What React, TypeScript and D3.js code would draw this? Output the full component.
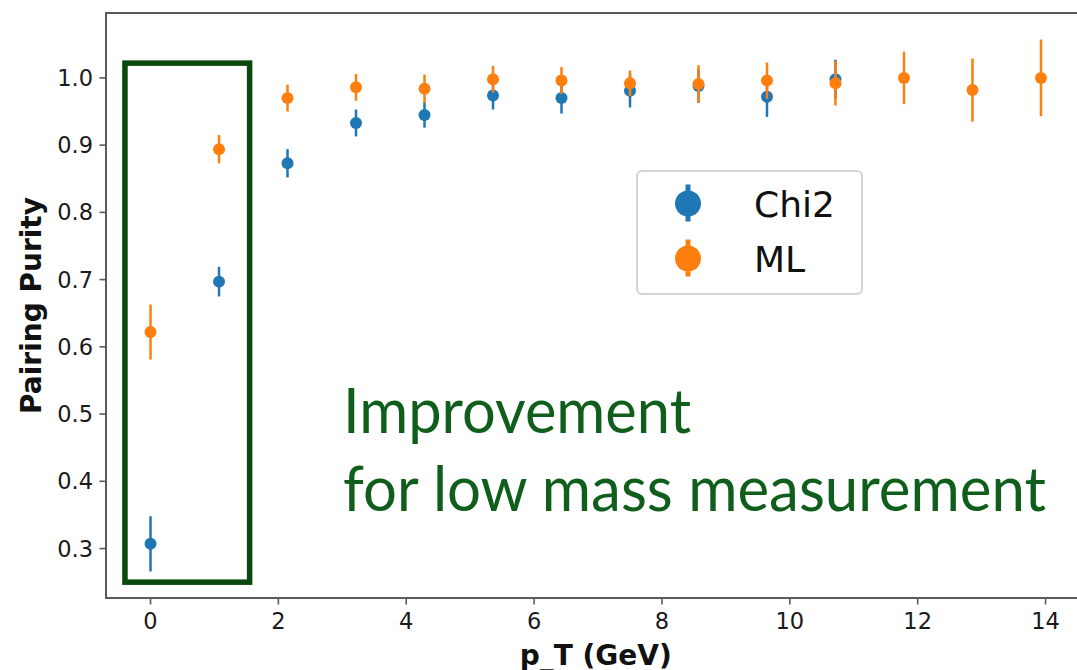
import React from "react";
import * as d3 from "d3";

// Bin centres in p_T (GeV): 14 equal bins across 0–15 GeV
const binCount = 14;
const binStep = 15 / 14;

// Pairing purity per bin and its uncertainty
const chi2Purity = [0.307, 0.697, 0.873, 0.933, 0.945, 0.974, 0.970, 0.981, 0.988, 0.972, 0.998];
const chi2Error = [0.041, 0.022, 0.021, 0.020, 0.019, 0.021, 0.023, 0.025, 0.025, 0.030, 0.029];
const mlPurity = [0.622, 0.894, 0.970, 0.986, 0.984, 0.998, 0.996, 0.992, 0.991, 0.996, 0.992, 1.0, 0.982, 1.0];
const mlError = [0.041, 0.021, 0.020, 0.020, 0.021, 0.020, 0.020, 0.019, 0.028, 0.027, 0.033, 0.039, 0.047, 0.057];

const xTicks = [0, 2, 4, 6, 8, 10, 12, 14];
const yTicks = [0.3, 0.4, 0.5, 0.6, 0.7, 0.8, 0.9, 1.0];

const seriesNames = ["Chi2", "ML"];
const seriesColors = ["#1f77b4", "#ff7f0e"];

// Highlighted low-p_T region (data units)
const highlightX = [-0.4, 1.55];
const highlightY = [0.25, 1.022];
const annotationLines = ["Improvement", "for low mass measurement"];

const W = 1077;
const H = 670;

export default function App() {
  const series = [
    { values: chi2Purity, errors: chi2Error },
    { values: mlPurity, errors: mlError },
  ].map((s, k) => ({
    name: seriesNames[k],
    color: seriesColors[k],
    points: s.values.map((v, i) => ({ x: i * binStep, y: v, e: s.errors[i] })),
  }));

  // Autoscale with 5% margins like the plotting default
  const xMax = (binCount - 1) * binStep;
  const allLo = series.flatMap((s) => s.points.map((p) => p.y - p.e));
  const allHi = series.flatMap((s) => s.points.map((p) => p.y + p.e));
  const yLo = d3.min(allLo) as number;
  const yHi = d3.max(allHi) as number;
  const yPad = (yHi - yLo) * 0.05;
  const xPad = xMax * 0.05;

  const plotLeft = 106;
  const plotRight = 1085.5;
  const plotTop = 13;
  const plotBottom = 598;

  const x = d3.scaleLinear().domain([-xPad, xMax + xPad]).range([plotLeft, plotRight]);
  const y = d3.scaleLinear().domain([yLo - yPad, yHi + yPad]).range([plotBottom, plotTop]);

  const spine = "#5a5a5a";
  const tickFont = "'DejaVu Sans', sans-serif";

  const legendX = 637;
  const legendY = 171;
  const legendW = 225;
  const legendH = 123;

  return (
    <div style={{ position: "absolute", left: 0, top: 0, width: W, height: H, background: "#fff" }}>
      <svg width={W} height={H} style={{ display: "block" }}>
        <rect x={0} y={0} width={W} height={H} fill="#fff" />

        {/* spines */}
        <rect
          x={plotLeft}
          y={plotTop}
          width={plotRight - plotLeft}
          height={plotBottom - plotTop}
          fill="none"
          stroke={spine}
          strokeWidth={2}
        />

        {/* y ticks */}
        {yTicks.map((t) => (
          <g key={"y" + t}>
            <line x1={plotLeft - 6.5} x2={plotLeft} y1={y(t)} y2={y(t)} stroke={spine} strokeWidth={1.6} />
            <text
              x={plotLeft - 13}
              y={y(t)}
              dy="0.36em"
              textAnchor="end"
              fontFamily={tickFont}
              fontSize={22.5}
              fill="#1a1a1a"
            >
              {d3.format(".1f")(t)}
            </text>
          </g>
        ))}

        {/* x ticks */}
        {xTicks.map((t) => (
          <g key={"x" + t}>
            <line x1={x(t)} x2={x(t)} y1={plotBottom} y2={plotBottom + 6.5} stroke={spine} strokeWidth={1.6} />
            <text
              x={x(t)}
              y={plotBottom + 31}
              textAnchor="middle"
              fontFamily={tickFont}
              fontSize={22.5}
              fill="#1a1a1a"
            >
              {t}
            </text>
          </g>
        ))}

        {/* axis labels */}
        <text
          x={(plotLeft + plotRight) / 2}
          y={665}
          textAnchor="middle"
          fontFamily={tickFont}
          fontWeight="bold"
          fontSize={28}
          fill="#111"
        >
          p_T (GeV)
        </text>
        <text
          transform={`translate(41, ${(plotTop + plotBottom) / 2}) rotate(-90)`}
          textAnchor="middle"
          fontFamily={tickFont}
          fontWeight="bold"
          fontSize={28}
          fill="#111"
        >
          Pairing Purity
        </text>

        {/* error bars and markers, one series after another */}
        {series.map((s) => (
          <g key={s.name}>
            {s.points.map((p, i) => (
              <line
                key={"e" + i}
                x1={x(p.x)}
                x2={x(p.x)}
                y1={y(p.y - p.e)}
                y2={y(p.y + p.e)}
                stroke={s.color}
                strokeWidth={2.5}
              />
            ))}
            {s.points.map((p, i) => (
              <circle key={"m" + i} cx={x(p.x)} cy={y(p.y)} r={6} fill={s.color} />
            ))}
          </g>
        ))}

        {/* legend */}
        <rect
          x={legendX}
          y={legendY}
          width={legendW}
          height={legendH}
          rx={5}
          fill="#fff"
          fillOpacity={0.8}
          stroke="#d4d4d4"
          strokeWidth={2}
        />
        {series.map((s, k) => {
          const cy = 203.5 + k * 55;
          return (
            <g key={"lg" + s.name}>
              <line x1={688} x2={688} y1={cy - 19} y2={cy + 18} stroke={s.color} strokeWidth={5} />
              <circle cx={688} cy={cy} r={13} fill={s.color} />
              <text x={754} y={cy + 13} fontFamily={tickFont} fontSize={36} fill="#111">
                {s.name}
              </text>
            </g>
          );
        })}

        {/* highlighted low-p_T region */}
        <rect
          x={x(highlightX[0])}
          y={y(highlightY[1])}
          width={x(highlightX[1]) - x(highlightX[0])}
          height={y(highlightY[0]) - y(highlightY[1])}
          fill="none"
          stroke="#0a470c"
          strokeWidth={5.5}
        />
        {annotationLines.map((line, i) => (
          <text
            key={line}
            x={343}
            y={433 + i * 77.5}
            fontFamily="Lato, 'Open Sans', sans-serif"
            fontSize={61}
            fill="#0f5e1b"
            textLength={i === 0 ? 348 : 703}
            lengthAdjust="spacingAndGlyphs"
          >
            {line}
          </text>
        ))}
      </svg>
    </div>
  );
}
